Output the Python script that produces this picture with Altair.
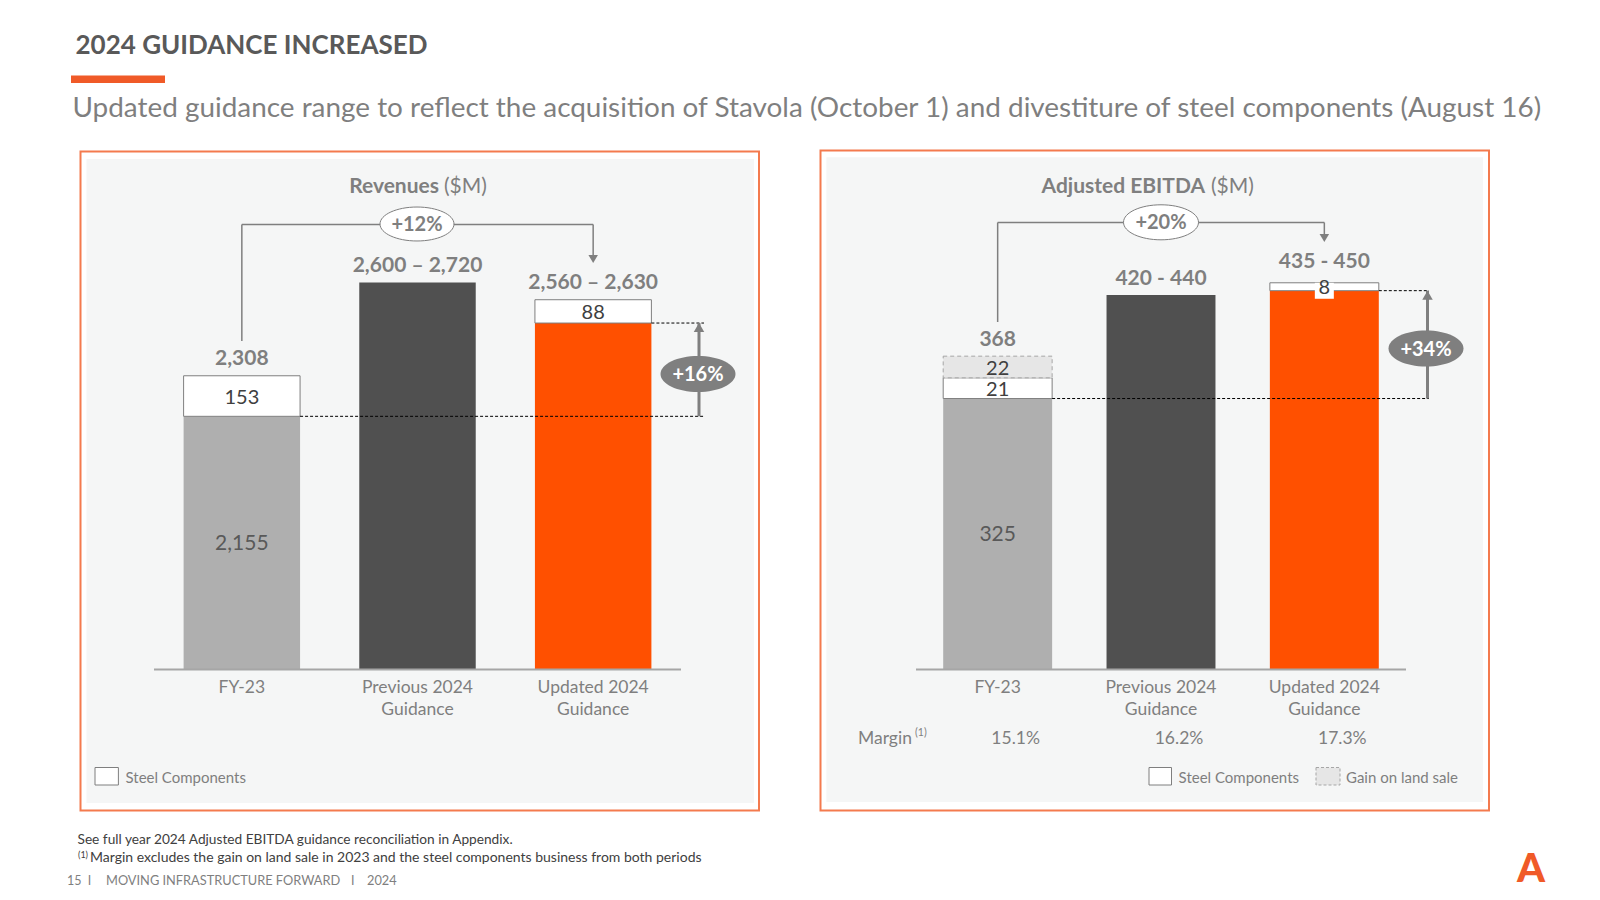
import altair as alt
import pandas as pd

FONT = "Lato"
GREY_TXT = "#7F7F7F"
DARK_TXT = "#404040"
ORANGE = "#FF5000"
BRAND = "#F05A28"
BORDER = "#F47A4E"
PANEL_FILL = "#F5F6F6"
TY = 1.5  # small vertical nudge for text baselines

# ---------------- data ----------------
categories = ["FY-23", "Previous 2024 Guidance", "Updated 2024 Guidance"]
cat_line1 = ["FY-23", "Previous 2024", "Updated 2024"]
cat_line2 = ["", "Guidance", "Guidance"]
bar_colors = ["#AFAFAF", "#505050", ORANGE]

rev_low = [2308, 2600, 2560]
rev_high = [2308, 2720, 2630]
rev_steel = [153, 0, 88]
rev_land = [0, 0, 0]
rev_labels = ["2,308", "2,600 – 2,720", "2,560 – 2,630"]
rev_growth = ["+12%", "+16%"]

ebitda_low = [368, 420, 435]
ebitda_high = [368, 440, 450]
ebitda_steel = [21, 0, 8]
ebitda_land = [22, 0, 0]
ebitda_labels = ["368", "420 - 440", "435 - 450"]
ebitda_growth = ["+20%", "+34%"]
ebitda_margin = ["15.1%", "16.2%", "17.3%"]


def panel_df(low, high, steel, land, labels, axis_start):
    df = pd.DataFrame({"cat": categories, "line1": cat_line1, "line2": cat_line2,
                       "low": low, "high": high, "steel": steel, "land": land,
                       "label": labels, "color": bar_colors})
    df["total"] = (df["low"] + df["high"]) / 2
    df["steel_top"] = df["total"] - df["land"]
    df["core"] = df["steel_top"] - df["steel"]
    df["start"] = axis_start
    df["core_mid"] = (df["start"] + df["core"]) / 2
    df["steel_mid"] = (df["core"] + df["steel_top"]) / 2
    df["land_mid"] = (df["steel_top"] + df["total"]) / 2
    return df


rev_df = panel_df(rev_low, rev_high, rev_steel, rev_land, rev_labels, 1200)
ebitda_df = panel_df(ebitda_low, ebitda_high, ebitda_steel, ebitda_land, ebitda_labels, 50)
ebitda_df["margin"] = ebitda_margin

dummy = pd.DataFrame({"v": [0]})


# ---------------- helpers for decorations (ox = x origin of the sub-chart) ----------------
def T(text, x, y, size, color=GREY_TXT, weight="normal", align="left", baseline="middle", ox=0):
    return alt.Chart(dummy).mark_text(text=text, align=align, baseline=baseline, fontSize=size,
                                      fontWeight=weight, color=color, font=FONT).encode(
        x=alt.value(x - ox), y=alt.value(y + TY))


def R(x0, x1, y0, y1, ox=0, **kw):
    return alt.Chart(dummy).mark_rect(**kw).encode(
        x=alt.value(x0 - ox), x2=alt.value(x1 - ox), y=alt.value(y0), y2=alt.value(y1))


def HL(x0, x1, y, ox=0, **kw):
    return alt.Chart(dummy).mark_rule(**kw).encode(
        x=alt.value(x0 - ox), x2=alt.value(x1 - ox), y=alt.value(y))


def VL(x, y0, y1, ox=0, **kw):
    return alt.Chart(dummy).mark_rule(**kw).encode(
        x=alt.value(x - ox), y=alt.value(y0), y2=alt.value(y1))


def ellipse(cx, cy, w, h, fill, stroke=None, ox=0):
    r = h / w
    path = f"M-1,0A1,{r:.3f},0,1,1,1,0A1,{r:.3f},0,1,1,-1,0Z"
    kw = dict(shape=path, size=w * w, filled=True, fill=fill, opacity=1)
    if stroke:
        kw.update(stroke=stroke, strokeWidth=1)
    else:
        kw.update(strokeWidth=0)
    return alt.Chart(dummy).mark_point(**kw).encode(x=alt.value(cx - ox), y=alt.value(cy))


def tri(x, y, shape, size=90, ox=0):
    return alt.Chart(dummy).mark_point(shape=shape, size=size, filled=True, fill=GREY_TXT,
                                       opacity=1, strokeWidth=0).encode(
        x=alt.value(x - ox), y=alt.value(y))


def band_centers(r0, r1, n, pi):
    po = pi / 2
    step = (r1 - r0) / (n - pi + 2 * po)
    bw = step * (1 - pi)
    return [r0 + po * step + i * step + bw / 2 for i in range(n)]


# ---------------- panel builder ----------------
def make_panel_layers(df, G, ox, margin=False):
    xr = [G["xr"][0] - ox, G["xr"][1] - ox]
    xs = alt.Scale(domain=categories, range=xr, paddingInner=G["pi"], paddingOuter=G["pi"] / 2)
    ys = alt.Scale(domain=G["yd"], range=G["yr"], zero=False, nice=False)
    X = alt.X("cat:N", scale=xs, axis=None)
    Xr = alt.X("cat:N", scale=xs, axis=None, bandPosition=1)

    def Y(f):
        return alt.Y(f, scale=ys, axis=None)

    base = alt.Chart(df)
    not_prev = f"datum.cat != '{categories[1]}'"
    is_upd = f"datum.cat == '{categories[2]}'"
    arrow_df = pd.DataFrame({"y0": [float(df["core"].iloc[0])], "y1": [float(df["core"].iloc[2])]})
    arr = alt.Chart(arrow_df)

    layers = [
        base.mark_bar().encode(x=X, y=Y("core:Q"), y2="start", fill=alt.Fill("color:N", scale=None)),
        base.transform_filter("datum.steel > 0").mark_bar(
            fill="white", stroke="#7F7F7F", strokeWidth=1).encode(x=X, y=Y("steel_top:Q"), y2="core"),
        base.transform_filter("datum.land > 0").mark_bar(
            fill="#E6E6E6", stroke="#A6A6A6", strokeWidth=1, strokeDash=[4, 3]).encode(
            x=X, y=Y("total:Q"), y2="steel_top"),
        base.transform_filter(not_prev).mark_rule(color="black", strokeWidth=1, strokeDash=[3, 2]).encode(
            x=Xr, x2=alt.value(G["dash_end"] - ox), y=Y("core:Q")),
        arr.mark_rule(color=GREY_TXT, strokeWidth=3).encode(
            x=alt.value(G["arrow_x"] - ox), y=Y("y0:Q"), y2="y1"),
        arr.mark_point(shape="triangle-up", size=110, filled=True, fill=GREY_TXT,
                       opacity=1, strokeWidth=0, yOffset=4.5).encode(
            x=alt.value(G["arrow_x"] - ox), y=Y("y1:Q")),
    ]
    if G.get("box8"):
        layers.append(base.transform_filter(is_upd).mark_point(
            shape="M-1,-0.84H1V0.84H-1Z", size=361, filled=True, fill="white", opacity=1,
            strokeWidth=0, yOffset=8).encode(x=X, y=Y("total:Q")))
        top_lab = [
            base.transform_filter(f"!({is_upd})").mark_text(
                dy=-18 + TY, fontWeight="bold", fontSize=21, color=GREY_TXT, font=FONT).encode(
                x=X, y=Y("total:Q"), text="label:N"),
            base.transform_filter(is_upd).mark_text(
                dy=-22 + TY, fontWeight="bold", fontSize=21, color=GREY_TXT, font=FONT).encode(
                x=X, y=Y("total:Q"), text="label:N"),
        ]
    else:
        top_lab = [base.mark_text(dy=-18 + TY, fontWeight="bold", fontSize=21, color=GREY_TXT,
                                  font=FONT).encode(x=X, y=Y("total:Q"), text="label:N")]
    layers += top_lab + [
        base.transform_filter(f"datum.cat == '{categories[0]}'").mark_text(
            fontSize=21, color="#595959", font=FONT, dy=TY).encode(
            x=X, y=Y("core_mid:Q"), text=alt.Text("core:Q", format=",")),
        base.transform_filter("datum.steel > 0").mark_text(
            fontSize=20, color=DARK_TXT, font=FONT, dy=TY).encode(
            x=X, y=Y("steel_mid:Q"), text=alt.Text("steel:Q", format=",")),
        base.transform_filter("datum.land > 0").mark_text(
            fontSize=20, color=DARK_TXT, font=FONT, dy=TY).encode(
            x=X, y=Y("land_mid:Q"), text=alt.Text("land:Q", format=",")),
        base.mark_text(fontSize=17.5, color=GREY_TXT, font=FONT).encode(
            x=X, y=alt.value(678 + TY), text="line1:N"),
        base.mark_text(fontSize=17.5, color=GREY_TXT, font=FONT).encode(
            x=X, y=alt.value(700 + TY), text="line2:N"),
    ]
    if margin:
        layers.append(base.mark_text(fontSize=17.5, color=GREY_TXT, font=FONT, dx=18).encode(
            x=X, y=alt.value(729 + TY), text="margin:N"))
    return layers


LEFT = dict(xr=[146, 673], pi=0.337, yd=[1200, 3000], yr=[661.4, 184.4], dash_end=696, arrow_x=691)
RIGHT = dict(xr=[908, 1398], pi=0.333, yd=[50, 500], yr=[661.4, 218.15], dash_end=1421, arrow_x=1419.5,
             box8=True)

lc = band_centers(LEFT["xr"][0], LEFT["xr"][1], 3, LEFT["pi"])
rc = band_centers(RIGHT["xr"][0], RIGHT["xr"][1], 3, RIGHT["pi"])

W_LEFT = 780
W_RIGHT = 804
H = 876
OX = W_LEFT  # origin of the right sub-chart

# ---------------- left sub-chart ----------------
left_layers = [
    R(72.5, 751, 143.5, 802.5, fill="white", stroke=BORDER, strokeWidth=2),
    R(78.5, 746, 151, 795, fill=PANEL_FILL),
] + make_panel_layers(rev_df, LEFT, 0) + [
    T("2024 GUIDANCE INCREASED", 67.5, 36, 26, color="#595959", weight="bold"),
    R(63, 157, 67.5, 75, fill=BRAND),
    T("Updated guidance range to reflect the acquisition of Stavola (October 1) and divestiture of steel "
      "components (August 16)", 64.5, 99, 27.9, color=GREY_TXT),
    T("Revenues", 431, 177, 21, weight="bold", align="right"),
    T("($M)", 436, 177, 21),
    HL(LEFT["xr"][0], LEFT["xr"][1], 661.4, color="#A6A6A6", strokeWidth=2),
    HL(lc[0], lc[2], 216.5, color=GREY_TXT, strokeWidth=1.5),
    VL(lc[0], 216.5, 333, color=GREY_TXT, strokeWidth=1.5),
    VL(lc[2], 216.5, 249, color=GREY_TXT, strokeWidth=1.5),
    tri(lc[2], 251, "triangle-down"),
    ellipse(409, 216, 74, 34, "white", GREY_TXT),
    T(rev_growth[0], 409, 215.5, 20, weight="bold", align="center"),
    ellipse(690, 366, 75, 36, GREY_TXT),
    T(rev_growth[1], 690, 365.5, 20, color="white", weight="bold", align="center"),
    R(87, 110.4, 759.5, 777, fill="white", stroke="#7F7F7F", strokeWidth=1),
    T("Steel Components", 117.5, 768.5, 15),
    T("See full year 2024 Adjusted EBITDA guidance reconciliation in Appendix.", 69.5, 830, 13.7,
      color=DARK_TXT),
    T("(1)", 70, 845, 9, color=DARK_TXT),
    T("Margin excludes the gain on land sale in 2023 and the steel components business from both periods",
      82, 848, 14, color=DARK_TXT),
    T("15", 59, 871, 12.5),
    T("I", 79.7, 871, 12.5),
    T("MOVING INFRASTRUCTURE FORWARD", 98, 871, 12.8),
    T("I", 343, 871, 12.5),
    T("2024", 359, 871, 12.8),
]

# ---------------- right sub-chart ----------------
right_layers = [
    R(812.5, 1481, 142.5, 802.5, ox=OX, fill="white", stroke=BORDER, strokeWidth=2),
    R(818.4, 1475, 149.3, 794, ox=OX, fill=PANEL_FILL),
] + make_panel_layers(ebitda_df, RIGHT, OX, margin=True) + [
    T("Adjusted EBITDA", 1197, 177, 21, weight="bold", align="right", ox=OX),
    T("($M)", 1203, 177, 21, ox=OX),
    HL(RIGHT["xr"][0], RIGHT["xr"][1], 661.4, ox=OX, color="#A6A6A6", strokeWidth=2),
    HL(rc[0], rc[2], 214.5, ox=OX, color=GREY_TXT, strokeWidth=1.5),
    VL(rc[0], 214.5, 314, ox=OX, color=GREY_TXT, strokeWidth=1.5),
    VL(rc[2], 214.5, 228, ox=OX, color=GREY_TXT, strokeWidth=1.5),
    tri(rc[2], 230, "triangle-down", ox=OX),
    ellipse(1153, 214.3, 75, 35, "white", GREY_TXT, ox=OX),
    T(ebitda_growth[0], 1153, 213.8, 20, weight="bold", align="center", ox=OX),
    ellipse(1418, 340.5, 75, 36, GREY_TXT, ox=OX),
    T(ebitda_growth[1], 1418, 340, 20, color="white", weight="bold", align="center", ox=OX),
    T("Margin", 850, 729, 17.5, ox=OX),
    T("(1)", 907, 723, 10.5, ox=OX),
    R(1141, 1163.5, 759.5, 777, ox=OX, fill="white", stroke="#7F7F7F", strokeWidth=1),
    T("Steel Components", 1170.6, 768.5, 15, ox=OX),
    R(1308, 1332, 759.5, 777, ox=OX, fill="#E6E6E6", stroke="#A6A6A6", strokeWidth=1, strokeDash=[3, 2]),
    T("Gain on land sale", 1338, 768.5, 15, ox=OX),
    T("A", 1523, 860, 40, color=BRAND, weight=900, align="center", ox=OX),
]

left_chart = alt.layer(*left_layers).properties(width=W_LEFT, height=H)
right_chart = alt.layer(*right_layers).properties(width=W_RIGHT, height=H)

chart = alt.hconcat(left_chart, right_chart, spacing=0, bounds="flush").properties(
    padding=0
).configure(
    background="white", view=alt.ViewConfig(strokeWidth=0, stroke="transparent")
)

chart.save("out.html", embed_options={"renderer": "svg", "actions": False})
